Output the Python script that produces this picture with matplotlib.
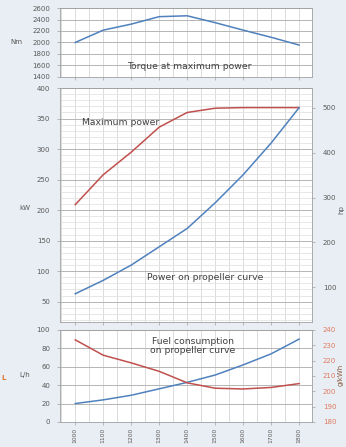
import numpy as np
import matplotlib
matplotlib.use('Agg')
import matplotlib.pyplot as plt
from matplotlib.ticker import MultipleLocator

rpm = [1000, 1100, 1200, 1300, 1400, 1500, 1600, 1700, 1800]
torque_nm = [2000, 2215, 2320, 2450, 2465, 2345, 2215, 2090, 1955]
max_power_kw = [209, 258, 295, 336, 360, 367, 368, 368, 368]
prop_power_kw = [63, 85, 110, 140, 170, 212, 258, 310, 368]
fuel_lh = [20, 24, 29, 36, 43, 51, 62, 74, 90]
bsfc_gkwh = [233.5, 223.5, 218.5, 213, 205.5, 202, 201.5, 202.5, 205]

BLUE = '#4f81bd'
RED = '#c0504d'
BG = '#e9eef4'
TICK = '#595959'
NOTE = '#404040'
KW_TO_HP = 1.3596
W, H = 346, 447

fig = plt.figure(figsize=(3.46, 4.47), dpi=100, facecolor=BG)
ax_t = fig.add_axes([0.173, 0.828, 0.728, 0.154])
ax_p = fig.add_axes([0.173, 0.280, 0.728, 0.523])
ax_f = fig.add_axes([0.173, 0.056, 0.728, 0.206])


def style(ax, ymaj, ymin=None):
    ax.set_facecolor('white')
    ax.set_xlim(945, 1845)
    ax.xaxis.set_major_locator(MultipleLocator(100))
    ax.xaxis.set_minor_locator(MultipleLocator(50))
    ax.yaxis.set_major_locator(MultipleLocator(ymaj))
    if ymin:
        ax.yaxis.set_minor_locator(MultipleLocator(ymin))
        ax.grid(True, which='minor', axis='y', color='#e3e3e3', lw=0.6)
    ax.grid(True, which='major', axis='y', color='#b5b5b5', lw=0.7)
    ax.grid(True, which='both', axis='x', color='#d6d6d6', lw=0.6)
    ax.set_axisbelow(True)
    for s in ax.spines.values():
        s.set_color('#a0a0a0')
        s.set_linewidth(0.6)
    ax.tick_params(labelsize=5, colors='#a0a0a0', labelcolor=TICK,
                   length=2, width=0.5, which='both', pad=5)
    ax.tick_params(which='minor', length=0)


def side_label(x, y, s, **kw):
    # place a label in pixel coordinates measured from the top-left corner
    fig.text(x / W, 1 - y / H, s, fontsize=5, ha='center', va='center', **kw)


# torque at maximum power
style(ax_t, 200)
ax_t.plot(rpm, torque_nm, color=BLUE, lw=1.1)
ax_t.set_ylim(1400, 2600)
ax_t.set_xticklabels([])
side_label(16, 42, 'Nm', color=TICK)
ax_t.text(1409, 1580, 'Torque at maximum power', fontsize=6.7, color=NOTE,
          ha='center', va='center')

# power curves, kW left and hp right
style(ax_p, 50, 10)
ax_p.plot(rpm, max_power_kw, color=RED, lw=1.1)
ax_p.plot(rpm, prop_power_kw, color=BLUE, lw=1.1)
ax_p.set_ylim(17, 400)
ax_p.set_yticks(np.arange(50, 401, 50))
ax_p.set_xticklabels([])
side_label(25, 208, 'kW', color=TICK)
ax_p.text(1024, 344, 'Maximum power', fontsize=6.7, color=NOTE, va='center')
ax_p.text(1466, 89, 'Power on propeller curve', fontsize=6.7, color=NOTE,
          ha='center', va='center')

ax_hp = ax_p.twinx()
ax_hp.set_ylim(17 * KW_TO_HP, 400 * KW_TO_HP)
ax_hp.set_yticks([100, 200, 300, 400, 500])
ax_hp.tick_params(labelsize=5, colors='#a0a0a0', labelcolor=TICK,
                  length=2, width=0.5, pad=6)
for s in ax_hp.spines.values():
    s.set_visible(False)
side_label(341, 210, 'hp', color=TICK, rotation=90)

# fuel consumption, L/h left and g/kWh right
style(ax_f, 20)
ax_f.plot(rpm, fuel_lh, color=BLUE, lw=1.1)
ax_f.set_ylim(0, 100)
ax_f.set_xticks(rpm)
ax_f.set_xticklabels([str(r) for r in rpm], rotation=90)
ax_f.tick_params(axis='x', pad=2, labelsize=4.3)
side_label(25, 375, 'L/h', color=TICK)
side_label(4, 378, 'L', color='#e07a3c', fontweight='bold')
ax_f.text(1420, 82, 'Fuel consumption\non propeller curve', fontsize=6.7,
          color=NOTE, ha='center', va='center', linespacing=1.0)

ax_g = ax_f.twinx()
ax_g.plot(rpm, bsfc_gkwh, color=RED, lw=1.1)
ax_g.set_ylim(180, 240)
ax_g.set_yticks(np.arange(180, 241, 10))
ax_g.tick_params(labelsize=5, colors='#a0a0a0', labelcolor='#e07a60',
                 length=2, width=0.5, pad=6)
for s in ax_g.spines.values():
    s.set_visible(False)
side_label(341, 375, 'g/kWh', color='#8a5a40', rotation=90)

fig.savefig('out.png', dpi=100, facecolor=BG)
